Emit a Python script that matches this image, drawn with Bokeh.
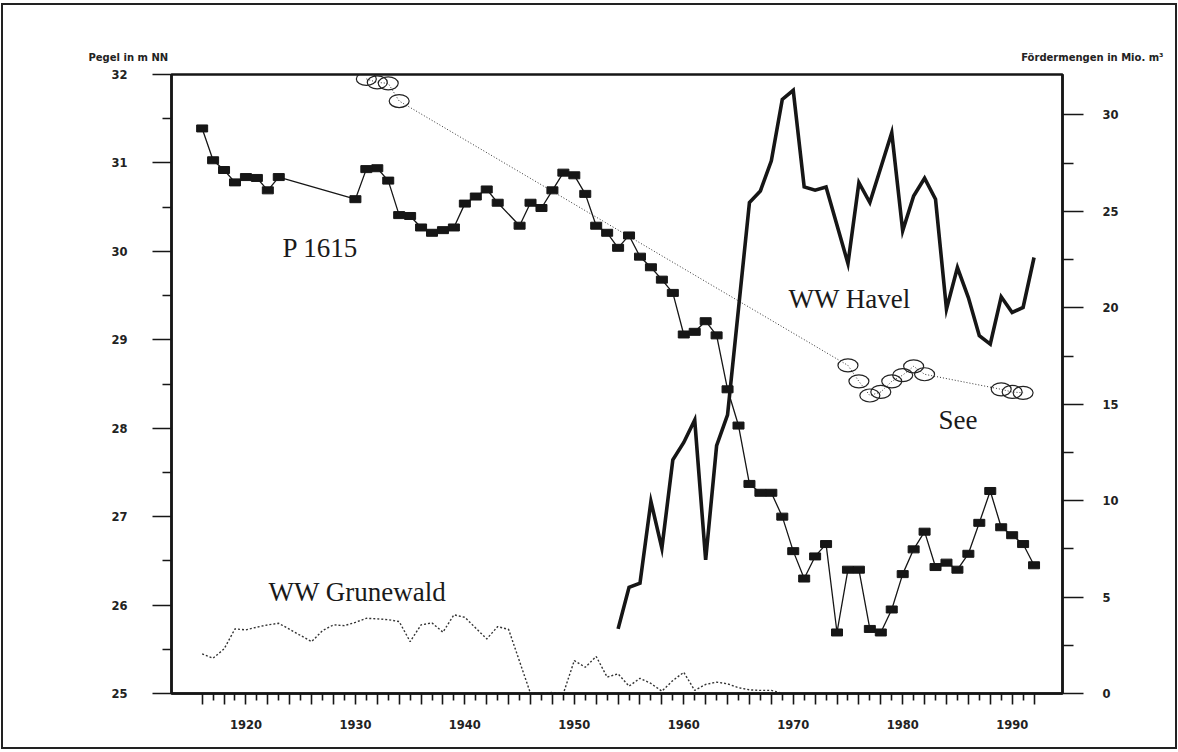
from bokeh.plotting import figure
from bokeh.layouts import column
from bokeh.models import LinearAxis, Range1d, FixedTicker, Label
from bokeh.core.properties import value
from bokeh.embed import file_html
from bokeh.resources import INLINE

# Groundwater level at well P 1615 (m NN, left axis)
p1615_years = [1916, 1917, 1918, 1919, 1920, 1921, 1922, 1923, 1930, 1931,
               1932, 1933, 1934, 1935, 1936, 1937, 1938, 1939, 1940, 1941,
               1942, 1943, 1945, 1946, 1947, 1948, 1949, 1950, 1951, 1952,
               1953, 1954, 1955, 1956, 1957, 1958, 1959, 1960, 1961, 1962,
               1963, 1964, 1965, 1966, 1967, 1968, 1969, 1970, 1971, 1972,
               1973, 1974, 1975, 1976, 1977, 1978, 1979, 1980, 1981, 1982,
               1983, 1984, 1985, 1986, 1987, 1988, 1989, 1990, 1991, 1992]
p1615_level = [31.39, 31.03, 30.92, 30.78, 30.84, 30.83, 30.69, 30.84, 30.59, 30.93,
               30.94, 30.80, 30.41, 30.40, 30.27, 30.21, 30.24, 30.27, 30.54, 30.62,
               30.70, 30.55, 30.29, 30.55, 30.49, 30.69, 30.89, 30.86, 30.65, 30.29,
               30.21, 30.04, 30.18, 29.94, 29.82, 29.68, 29.53, 29.06, 29.09, 29.21,
               29.05, 28.44, 28.03, 27.37, 27.27, 27.27, 27.00, 26.61, 26.30, 26.55,
               26.69, 25.69, 26.40, 26.40, 25.73, 25.69, 25.95, 26.35, 26.63, 26.83,
               26.43, 26.48, 26.40, 26.58, 26.93, 27.29, 26.88, 26.79, 26.69, 26.45]

# Lake level "See" (m NN, left axis)
see_years = [1931, 1932, 1933, 1934, 1975, 1976, 1977, 1978, 1979, 1980,
             1981, 1982, 1989, 1990, 1991]
see_level = [31.95, 31.91, 31.90, 31.70, 28.71, 28.53, 28.37, 28.41, 28.53, 28.60,
             28.70, 28.61, 28.44, 28.41, 28.40]

# Abstraction by waterworks Havel (Mio. m³, right axis)
havel_years = [1954, 1955, 1956, 1957, 1958, 1959, 1960, 1961, 1962, 1963,
               1964, 1966, 1967, 1968, 1969, 1970, 1971, 1972, 1973, 1975,
               1976, 1977, 1979, 1980, 1981, 1982, 1983, 1984, 1985, 1986,
               1987, 1988, 1989, 1990, 1991, 1992]
havel_volume = [3.35, 5.51, 5.72, 9.96, 7.53, 12.12, 13.02, 14.18, 6.93, 12.85,
                14.45, 25.46, 26.06, 27.62, 30.81, 31.28, 26.27, 26.10, 26.27, 22.30,
                26.49, 25.46, 29.08, 23.99, 25.80, 26.72, 25.63, 19.93, 22.09, 20.53,
                18.55, 18.12, 20.57, 19.76, 20.02, 22.61]

# Abstraction by waterworks Grunewald (Mio. m³, right axis)
grunewald_years = [1916, 1917, 1918, 1919, 1920, 1921, 1922, 1923, 1926, 1927,
                   1928, 1929, 1930, 1931, 1932, 1933, 1934, 1935, 1936, 1937,
                   1938, 1939, 1940, 1942, 1943, 1944, 1946, 1947, 1948, 1949,
                   1950, 1951, 1952, 1953, 1954, 1955, 1956, 1957, 1958, 1959,
                   1960, 1961, 1962, 1963, 1964, 1965, 1966, 1967, 1968, 1969]
grunewald_volume = [2.06, 1.83, 2.31, 3.35, 3.30, 3.44, 3.56, 3.64, 2.69, 3.26,
                    3.56, 3.52, 3.69, 3.90, 3.87, 3.83, 3.73, 2.69, 3.56, 3.66,
                    3.18, 4.08, 3.95, 2.83, 3.47, 3.32, 0.00, 0.00, 0.05, 0.00,
                    1.71, 1.36, 1.92, 0.85, 1.02, 0.38, 0.79, 0.52, 0.12, 0.67,
                    1.10, 0.16, 0.47, 0.59, 0.50, 0.30, 0.19, 0.16, 0.16, 0.00]

# Axis ticks and titles
year_major = list(range(1916, 1993, 2))
year_minor = list(range(1917, 1992, 2))
year_labels = {y: (str(y) if y % 10 == 0 else "") for y in year_major}
level_major = [25, 26, 27, 28, 29, 30, 31, 32]
level_minor = [25.5, 26.5, 27.5, 28.5, 29.5, 30.5, 31.5]
volume_major = [0, 5, 10, 15, 20, 25, 30]
volume_minor = [2.5, 7.5, 12.5, 17.5, 22.5, 27.5]
left_title = "Pegel in m NN"
right_title = "Fördermengen in Mio. m³"

# Page geometry (page pixels).  The content box sits inside a 2 px border.
W, H = 1178, 752
CL, CT, CR, CB = 3, 5, 1175, 747        # content box inside the border
HEAD_B = 64                             # bottom of the title strip
FL, FR, FT, FB = 171, 1062, 74, 693     # plot frame
X0, X1 = 1913.2, 1994.6
Y0, Y1 = 25.0, 32.0
V1 = 32.1

INK = "#161616"


def year_at(px):
    return X0 + (px - FL) * (X1 - X0) / (FR - FL)


def level_at(py):
    return Y0 + (FB - py) * (Y1 - Y0) / (FB - FT)


# Title strip across the top of the page (page pixel coordinates, y downwards)
head = figure(width=CR - CL, height=HEAD_B - CT,
              x_range=Range1d(CL, CR), y_range=Range1d(HEAD_B, CT),
              x_axis_type=None, y_axis_type=None,
              output_backend="svg", toolbar_location=None,
              min_border_left=0, min_border_right=0,
              min_border_top=0, min_border_bottom=0,
              background_fill_color="white", border_fill_color="white")
head.grid.visible = False
head.outline_line_color = None
head.text(x=[88], y=[57], text=[left_title],
          text_font=value("DejaVu Sans"), text_font_style="bold",
          text_font_size="10px", text_color="#222222",
          text_align="left", text_baseline="alphabetic")
head.text(x=[1163], y=[57], text=[right_title],
          text_font=value("DejaVu Sans"), text_font_style="bold",
          text_font_size="10px", text_color="#222222",
          text_align="right", text_baseline="alphabetic")

# Main chart
p = figure(width=CR - CL, height=CB - HEAD_B,
           x_range=Range1d(X0, X1), y_range=Range1d(Y0, Y1),
           output_backend="svg", toolbar_location=None,
           min_border_left=FL - CL, min_border_right=CR - FR,
           min_border_top=FT - HEAD_B, min_border_bottom=CB - FB,
           background_fill_color="white", border_fill_color="white")
p.extra_y_ranges = {"volume": Range1d(0, V1)}
p.grid.visible = False
p.outline_line_color = INK
p.outline_line_width = 2.5
p.outline_line_alpha = 1.0

# the strip and the chart keep their own frames
for fig in (head, p):
    if hasattr(fig, "frame_align"):
        fig.frame_align = False


def style_axis(ax, major_out, minor_out, standoff):
    ax.axis_line_color = INK
    ax.axis_line_width = 2.5
    ax.major_tick_line_color = INK
    ax.minor_tick_line_color = INK
    ax.major_tick_line_width = 1.6
    ax.minor_tick_line_width = 1.6
    ax.major_tick_in = 0
    ax.minor_tick_in = 0
    ax.major_tick_out = major_out
    ax.minor_tick_out = minor_out
    ax.major_label_standoff = standoff
    ax.major_label_text_font = "DejaVu Sans"
    ax.major_label_text_font_style = "bold"
    ax.major_label_text_font_size = "11.5px"
    ax.major_label_text_color = "#222222"


xax = p.xaxis[0]
xax.ticker = FixedTicker(ticks=year_major, minor_ticks=year_minor)
xax.major_label_overrides = year_labels
style_axis(xax, 11, 7, 15)

yax = p.yaxis[0]
yax.ticker = FixedTicker(ticks=level_major, minor_ticks=level_minor)
style_axis(yax, 19, 9, 25)

rax = LinearAxis(y_range_name="volume",
                 ticker=FixedTicker(ticks=volume_major, minor_ticks=volume_minor))
style_axis(rax, 21, 11, 19)
p.add_layout(rax, "right")

# Lake level: dotted trace with open ellipses
p.line(see_years, see_level, line_color="#333333", line_width=1.0, line_dash="1 2")
p.ellipse(x=see_years, y=see_level, width=20, height=13,
          width_units="screen", height_units="screen",
          fill_color=None, line_color="#222222", line_width=1.2)

# Waterworks abstraction volumes
p.line(grunewald_years, grunewald_volume, y_range_name="volume",
       line_color="#333333", line_width=1.4, line_dash="2 2")
p.line(havel_years, havel_volume, y_range_name="volume",
       line_color=INK, line_width=3.6, line_join="miter")

# Well P 1615
p.line(p1615_years, p1615_level, line_color=INK, line_width=1.3)
p.rect(x=p1615_years, y=p1615_level, width=11, height=7,
       width_units="screen", height_units="screen",
       fill_color=INK, line_color=INK)

# Series names
for txt, px, py in [("P 1615", 282, 247.5), ("WW Havel", 788, 298),
                    ("See", 938, 419), ("WW Grunewald", 268, 591.5)]:
    p.add_layout(Label(x=year_at(px), y=level_at(py), text=txt,
                       text_font="Liberation Serif", text_font_size="27px",
                       text_color="#1a1a1a", text_baseline="alphabetic"))

# Thin border round the whole page
page = column(head, p, spacing=0, margin=(CT - 2, W - CR - 2, H - CB - 2, CL - 2),
              styles={"border": "2px solid #222222"})

open("out.html", "w").write(file_html(page, INLINE))
